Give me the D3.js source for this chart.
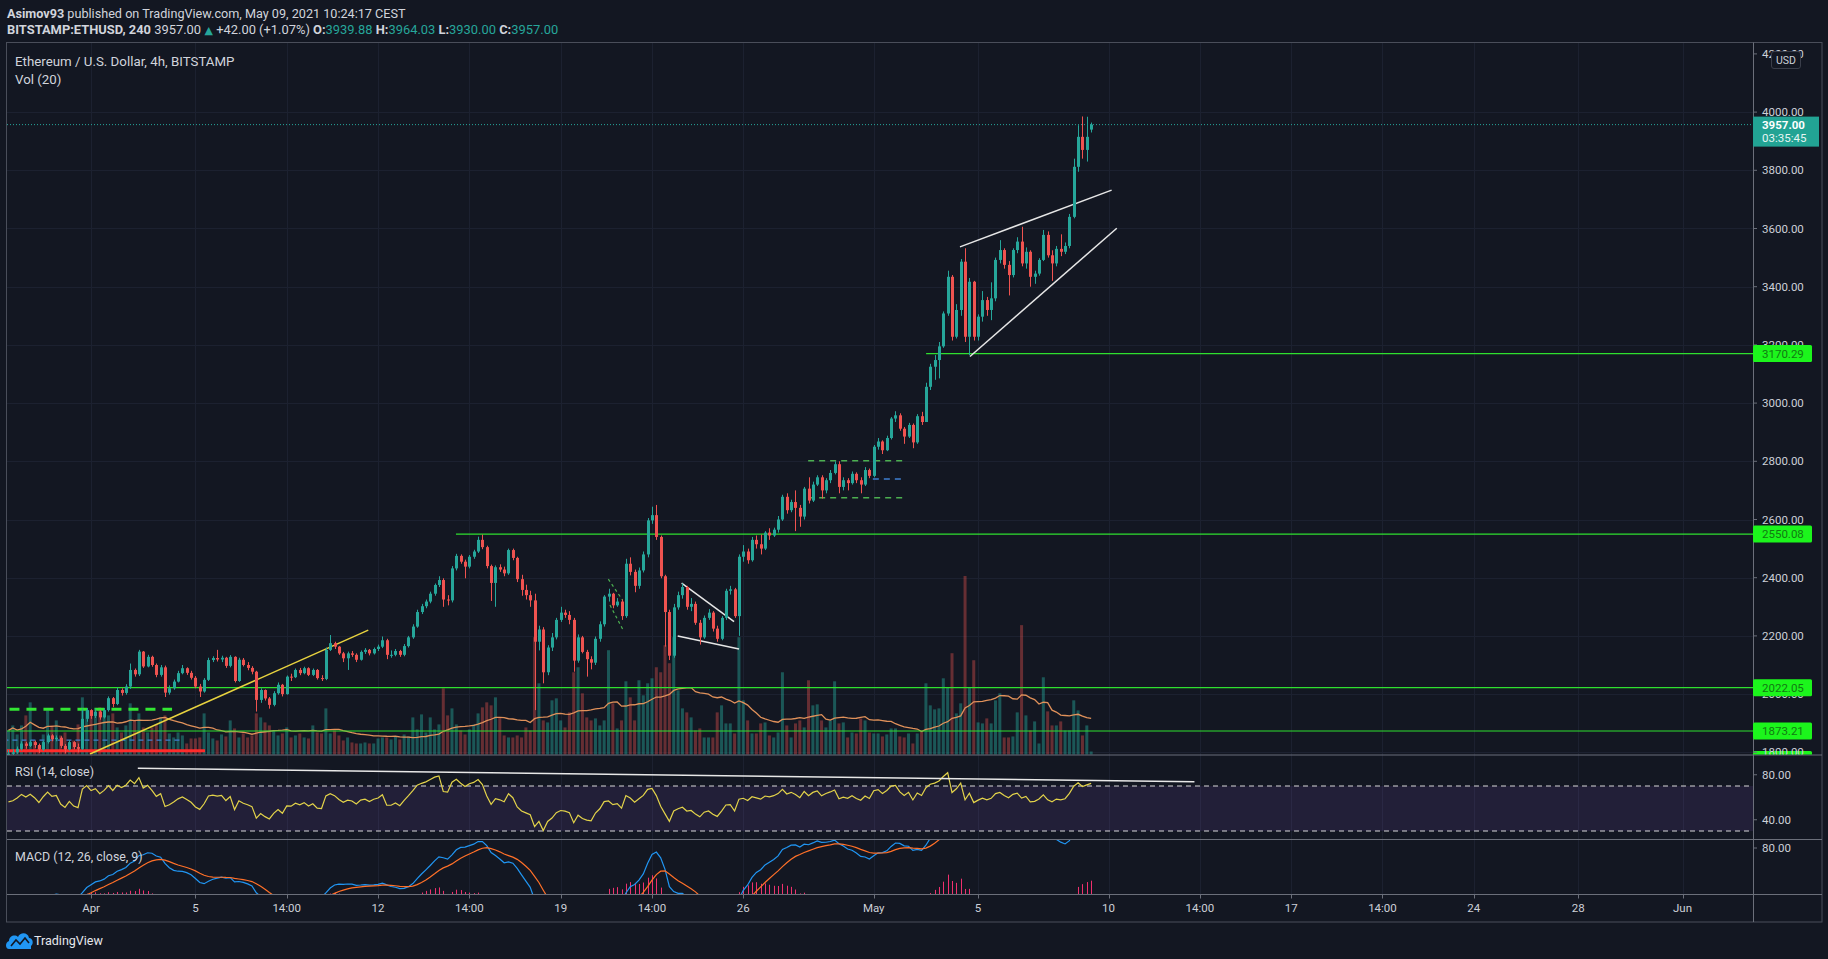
<!DOCTYPE html>
<html>
<head>
<meta charset="utf-8">
<title>ETHUSD 4h</title>
<style>
body { margin: 0; background: #131722; overflow: hidden; }
svg text { font-family: Roboto, "Noto Sans", sans-serif; }
</style>
</head>
<body>
<script src="https://cdn.jsdelivr.net/npm/d3@7/dist/d3.min.js"></script>
<script>

// 4h bars, wall-clock CEST times stored as UTC
function dt(mo, d, h, mi) { return new Date(Date.UTC(2021, mo - 1, d, h || 0, mi || 0)); }

var firstBar = dt(3, 28, 22);
var barMs = 4 * 3600 * 1000;
var firstOpen = 1780;
var lastBarOpen = 3939.88;

var closes = [
    1795,
    1800, 1812, 1830, 1822, 1835, 1825,   // Mar 29
    1810, 1835, 1858, 1845, 1850, 1822,   // Mar 30
    1810, 1835, 1818, 1812, 1915, 1945,   // Mar 31
    1925, 1940, 1920, 1945, 1986, 1966,   // Apr 1
    2014, 2004, 2026, 2083, 2068, 2146,
    2095, 2128, 2100, 2066, 2092, 2005,
    2020, 2043, 2072, 2089, 2073, 2056,
    2026, 2009, 2049, 2117, 2124, 2119,   // Apr 5
    2125, 2097, 2128, 2045, 2118, 2100,
    2090, 2077, 1980, 2014, 1985, 1963,
    2003, 2032, 2000, 2060, 2058, 2083,
    2072, 2089, 2066, 2083, 2055, 2052,
    2152, 2175, 2163, 2140, 2123, 2140,   // Apr 10
    2135, 2118, 2145, 2152, 2140, 2155,
    2163, 2185, 2135, 2135, 2148, 2135,
    2165, 2195, 2232, 2282, 2302, 2318,
    2345, 2375, 2392, 2325, 2322, 2432,
    2475, 2455, 2438, 2472, 2490, 2530,   // Apr 15
    2505, 2440, 2382, 2436, 2428, 2415,
    2495, 2468, 2395, 2358, 2340, 2322,
    2180, 2222, 2075, 2160, 2195, 2255,
    2280, 2272, 2255, 2115, 2195, 2145,
    2120, 2108, 2190, 2240, 2335, 2345,   // Apr 20
    2305, 2318, 2268, 2448, 2420, 2372,
    2425, 2480, 2597, 2615, 2540, 2405,
    2282, 2132, 2298, 2340, 2368, 2300,
    2310, 2245, 2195, 2262, 2280, 2225,
    2190, 2262, 2355, 2360, 2268, 2472,   // Apr 25
    2490, 2460, 2530, 2515, 2500, 2555,
    2545, 2565, 2600, 2678, 2632, 2660,
    2640, 2610, 2706, 2665, 2720, 2745,
    2700, 2735, 2760, 2790, 2712, 2735,
    2725, 2757, 2735, 2720, 2770, 2750,   // Apr 30
    2850, 2868, 2838, 2880, 2947, 2958,
    2912, 2885, 2925, 2865, 2955, 2935,
    3056, 3125, 3148, 3195, 3308, 3434,
    3228, 3320, 3486, 3228, 3417, 3228,
    3297, 3354, 3320, 3360, 3492, 3526,   // May 5
    3475, 3440, 3526, 3555, 3480, 3520,
    3434, 3445, 3492, 3578, 3508, 3480,
    3530, 3520, 3540, 3640, 3812, 3915,
    3870, 3915, 3957
];

var highs = [
    1808,
    1810, 1820, 1838, 1836, 1842, 1840,
    1830, 1840, 1864, 1862, 1858, 1855,
    1828, 1842, 1838, 1830, 1950, 1952,
    1948, 1950, 1945, 1952, 1992, 1990,
    2022, 2020, 2034, 2105, 2088, 2152,
    2148, 2135, 2132, 2105, 2100, 2098,
    2030, 2050, 2080, 2100, 2092, 2080,
    2062, 2035, 2055, 2125, 2130, 2152,
    2132, 2128, 2134, 2130, 2125, 2124,
    2110, 2096, 2080, 2020, 2016, 1990,
    2010, 2040, 2035, 2064, 2070, 2088,
    2090, 2094, 2092, 2088, 2086, 2065,
    2160, 2203, 2180, 2165, 2145, 2146,
    2148, 2140, 2150, 2158, 2155, 2160,
    2170, 2198, 2190, 2150, 2155, 2152,
    2172, 2200, 2240, 2290, 2310, 2325,
    2352, 2380, 2405, 2398, 2340, 2440,
    2482, 2480, 2462, 2478, 2496, 2541,
    2548, 2510, 2445, 2442, 2446, 2438,
    2500, 2500, 2472, 2410, 2376, 2355,
    2345, 2235, 2230, 2168, 2210, 2262,
    2300, 2290, 2285, 2262, 2205, 2200,
    2152, 2130, 2198, 2250, 2340, 2362,
    2348, 2330, 2325, 2465, 2470, 2428,
    2435, 2490, 2605, 2644, 2650, 2545,
    2410, 2290, 2310, 2352, 2380, 2372,
    2330, 2318, 2255, 2270, 2292, 2285,
    2235, 2268, 2362, 2372, 2365, 2480,
    2512, 2500, 2540, 2545, 2548, 2560,
    2570, 2572, 2612, 2685, 2690, 2668,
    2700, 2650, 2712, 2745, 2730, 2752,
    2752, 2742, 2770, 2800, 2800, 2745,
    2742, 2765, 2762, 2745, 2780, 2775,
    2856, 2880, 2872, 2888, 2952, 2972,
    2965, 2918, 2932, 2930, 2962, 2970,
    3070, 3135, 3165, 3210, 3315, 3455,
    3440, 3340, 3495, 3532, 3430, 3420,
    3305, 3385, 3365, 3415, 3500, 3560,
    3532, 3488, 3532, 3570, 3606, 3535,
    3525, 3455, 3498, 3595, 3590, 3525,
    3540, 3580, 3552, 3650, 3840, 3955,
    3985, 3984, 3964.03
];

var lows = [
    1772,
    1785, 1795, 1806, 1812, 1818, 1815,
    1798, 1805, 1830, 1838, 1838, 1815,
    1796, 1806, 1810, 1800, 1808, 1905,
    1915, 1918, 1912, 1916, 1940, 1955,
    1962, 1995, 1998, 2018, 2060, 2062,
    2090, 2092, 2094, 2058, 2060, 1990,
    1998, 2015, 2040, 2068, 2066, 2050,
    2020, 1990, 2005, 2045, 2110, 2112,
    2110, 2090, 2092, 2040, 2042, 2095,
    2082, 2068, 1940, 1970, 1978, 1950,
    1958, 1998, 1992, 1998, 2045, 2055,
    2065, 2068, 2062, 2062, 2050, 2045,
    2048, 2148, 2155, 2135, 2110, 2083,
    2128, 2110, 2115, 2138, 2133, 2136,
    2148, 2158, 2120, 2125, 2130, 2128,
    2130, 2160, 2190, 2228, 2275, 2295,
    2312, 2338, 2368, 2300, 2305, 2315,
    2425, 2448, 2398, 2432, 2465, 2485,
    2498, 2432, 2320, 2300, 2420, 2405,
    2410, 2460, 2385, 2338, 2325, 2300,
    1945, 2150, 2037, 2065, 2148, 2188,
    2248, 2262, 2240, 2077, 2108, 2140,
    2060, 2085, 2100, 2180, 2232, 2318,
    2295, 2300, 2255, 2262, 2408, 2350,
    2362, 2418, 2470, 2585, 2530, 2398,
    2163, 2117, 2125, 2290, 2328, 2290,
    2285, 2238, 2170, 2190, 2255, 2215,
    2180, 2185, 2255, 2342, 2262, 2200,
    2455, 2448, 2455, 2500, 2480, 2495,
    2530, 2540, 2555, 2595, 2620, 2625,
    2560, 2575, 2600, 2655, 2660, 2715,
    2672, 2690, 2725, 2755, 2690, 2700,
    2700, 2720, 2725, 2690, 2715, 2742,
    2745, 2840, 2825, 2835, 2875, 2935,
    2905, 2860, 2880, 2845, 2860, 2925,
    2935, 3045, 3080, 3085, 3190, 3300,
    3215, 3222, 3300, 3210, 3165, 3215,
    3215, 3280, 3300, 3285, 3350, 3480,
    3462, 3370, 3432, 3515, 3470, 3462,
    3400, 3410, 3438, 3488, 3500, 3420,
    3470, 3505, 3512, 3532, 3635, 3795,
    3840, 3830, 3930
];

var volumes = [
    2400,
    2900, 2000, 2900, 3900, 5200, 1400,
    900, 2000, 4400, 2900, 3400, 1900,
    2200, 1100, 1400, 3000, 5700, 4400,
    4400, 4100, 4700, 3900, 3900, 4100,
    2700, 2200, 2900, 5100, 3400, 4100,
    2700, 2200, 2700, 3000, 3700, 3900,
    2100, 1700, 2200, 1900, 1100, 1600,
    1600, 1700, 4100, 2200, 1600, 1400,
    2000, 1800, 3400, 2600, 1700, 2100,
    1700, 1900, 4100, 3700, 3200, 2900,
    2400, 1900, 2100, 2700, 1700, 1900,
    2100, 1700, 1600, 2900, 2200, 2100,
    4600, 2100, 2400, 1900, 1400, 1700,
    1200, 1100, 1100, 1200, 1100, 1100,
    1600, 1700, 1700, 1500, 1800, 1500,
    2000, 1800, 3700, 2500, 4000, 2200,
    3700, 2500, 3000, 6600, 3900, 4600,
    3000, 2400, 2000, 2500, 3000, 4100,
    4700, 5200, 4900, 5700, 3700, 1900,
    1700, 1700, 1900, 1700, 2700, 2400,
    11700, 7100, 3400, 3200, 5400, 5600,
    3400, 2700, 4200, 8200, 8700, 6100,
    3700, 3400, 3600, 2900, 3400, 10400,
    5100, 2600, 3400, 7300, 5700, 3400,
    7400, 5900, 7100, 7600, 8700, 8200,
    10900, 9100, 11700, 6400, 4600, 4200,
    3700, 2400, 2600, 1700, 1700, 1700,
    4200, 4900, 3100, 3100, 2100, 11700,
    5400, 3400, 2100, 2100, 3100, 3200,
    1900, 1700, 2200, 8200, 2900, 1700,
    3100, 3400, 2700, 7400, 4900, 5000,
    3400, 2700, 3400, 7300, 3100, 3200,
    1700, 2200, 2100, 3600, 3400, 2200,
    2100, 2100, 1800, 2000, 2600, 2600,
    1800, 1700, 2100, 1100, 2100, 2400,
    7100, 4900, 4500, 4600, 7600, 6700,
    10100, 4100, 5100, 17800, 6700, 9400,
    3200, 3100, 3600, 3100, 5400, 6100,
    1700, 1700, 1800, 4200, 12900, 3900,
    2400, 3300, 1100, 7700, 4300, 2900,
    2900, 3300, 2400, 2400, 5400, 4400,
    1900, 2900, 300
];

// axis ticks
var priceTicks = [1800, 2000, 2200, 2400, 2600, 2800, 3000, 3200, 3400, 3600, 3800, 4000, 4200];
var timeTicks = [dt(4,1,2), dt(4,5,2), dt(4,8,14), dt(4,12,2), dt(4,15,14), dt(4,19,2), dt(4,22,14), dt(4,26,2),
                 dt(5,1,2), dt(5,5,2), dt(5,10,2), dt(5,13,14), dt(5,17,2), dt(5,20,14), dt(5,24,2), dt(5,28,2), dt(6,1,2)];
var timeLabels = ["Apr", "5", "14:00", "12", "14:00", "19", "14:00", "26", "May", "5", "10", "14:00", "17", "14:00", "24", "28", "Jun"];

// horizontal levels drawn on the chart
var levelPrices = [3170.29, 2550.08, 2022.05, 1873.21];
var levelStarts = [dt(5,3,2,10), dt(4,15,1,40), dt(3,27,0), dt(3,27,0)];
var lowLevel = 1775;   // level just under the pane, only its label edge shows

// drawings
var yellowTrend = [[dt(4,1,1), 1794], [dt(4,11,17), 2220]];
var redLine = [[dt(3,27,0), 1805], [dt(4,5,10,50), 1805]];
var greenDash = [[dt(3,27,0), 1948], [dt(4,4,4,30), 1948]];
var blueDash = [[dt(3,27,0), 1842], [dt(4,4,11,50), 1842]];
var flagLines = [
    [[dt(4,20,21,50), 2395], [dt(4,21,11,0), 2323]],
    [[dt(4,20,23,20), 2306], [dt(4,21,11,30), 2220]]
];
var wedgeDown = [
    [[dt(4,23,17,15), 2381], [dt(4,25,17,30), 2249]],
    [[dt(4,23,13,40), 2200], [dt(4,25,22,5), 2155]]
];
var boxLines = [
    [[dt(4,28,13,40), 2802], [dt(5,2,5,15), 2802]],
    [[dt(4,28,13,40), 2675], [dt(5,2,5,15), 2675]]
];
var boxMid = [[dt(5,1,1,10), 2739], [dt(5,2,5,15), 2739]];
var wedgeUp = [
    [[dt(5,4,9,20), 3537], [dt(5,10,4,50), 3732]],
    [[dt(5,4,18,30), 3160], [dt(5,10,9,35), 3601]]
];
var rsiTrend = [[dt(4,2,21), 85.7], [dt(5,13,9), 73.8]];

// ---------- layout ----------
var W = 1828, H = 959;
var L = 7, R = 1753, outerR = 1822;
var paneTop = 42.5, priceBottom = 755, rsiBottom = 839.5, macdBottom = 894.5, axisBottom = 922;

var bars = closes.map(function(c, i) {
    var o = i === 0 ? firstOpen : closes[i - 1];
    if (i === closes.length - 1) o = lastBarOpen;
    return { t: new Date(firstBar.getTime() + i * barMs), o: o, h: highs[i], l: lows[i], c: c, v: volumes[i] };
});

// indicators
var rsiVals = [];
var avgGain = 9, avgLoss = 8;
bars.forEach(function(b, i) {
    var prev = i === 0 ? firstOpen : closes[i - 1];
    var ch = b.c - prev;
    avgGain = (avgGain * 13 + Math.max(ch, 0)) / 14;
    avgLoss = (avgLoss * 13 + Math.max(-ch, 0)) / 14;
    rsiVals.push(100 - 100 / (1 + avgGain / avgLoss));
});

var macdVals = [], sigVals = [], histVals = [];
var eFast = 1760, eSlow = 1790, eSig = -20;
closes.forEach(function(c) {
    eFast = eFast + (c - eFast) * 2 / 13;
    eSlow = eSlow + (c - eSlow) * 2 / 27;
    var m = eFast - eSlow;
    eSig = eSig + (m - eSig) * 2 / 10;
    macdVals.push(m); sigVals.push(eSig); histVals.push(m - eSig);
});

var volMA = volumes.map(function(v, i) {
    return d3.mean(volumes.slice(Math.max(0, i - 19), i + 1));
});

// scales
var x = d3.scaleTime().domain([dt(4,1,2), dt(5,5,2)]).range([91.07, 978.1]);
var y = d3.scaleLinear().domain([1800, 4000]).range([752.3, 112.1]);
var yVol = d3.scaleLinear().domain([0, d3.max(volumes)]).range([754.5, 576]);
var yRsi = d3.scaleLinear().domain([30, 70]).range([831, 786]);
var yMacd = d3.scaleLinear().domain([0, 80]).range([901, 848]);

var svg = d3.select("body").append("svg").attr("width", W).attr("height", H);
svg.append("rect").attr("width", W).attr("height", H).attr("fill", "#131722");

var defs = svg.append("defs");
defs.append("clipPath").attr("id", "cPrice").append("rect").attr("x", L).attr("y", paneTop).attr("width", R - L).attr("height", priceBottom - paneTop);
defs.append("clipPath").attr("id", "cRsi").append("rect").attr("x", L).attr("y", priceBottom + 0.5).attr("width", R - L).attr("height", rsiBottom - priceBottom - 1);
defs.append("clipPath").attr("id", "cMacd").append("rect").attr("x", L).attr("y", rsiBottom + 0.5).attr("width", R - L).attr("height", macdBottom - rsiBottom - 1);
defs.append("clipPath").attr("id", "cAxis").append("rect").attr("x", R).attr("y", paneTop).attr("width", outerR - R).attr("height", priceBottom - paneTop - 0.5);

// grid
var grid = svg.append("g").attr("stroke", "#1c2130").attr("stroke-width", 1);
grid.selectAll("line.v").data(timeTicks).enter().append("line")
    .attr("x1", function(d) { return Math.round(x(d)) + 0.5; }).attr("x2", function(d) { return Math.round(x(d)) + 0.5; })
    .attr("y1", paneTop).attr("y2", macdBottom);
grid.selectAll("line.h").data(priceTicks.filter(function(p) { return p <= 4000; })).enter().append("line")
    .attr("x1", L).attr("x2", R)
    .attr("y1", function(d) { return Math.round(y(d)) + 0.5; }).attr("y2", function(d) { return Math.round(y(d)) + 0.5; });

// ---------- price pane ----------
var pricePane = svg.append("g").attr("clip-path", "url(#cPrice)");
var upCol = "#26a69a", downCol = "#ef5350";

pricePane.selectAll("rect.vol").data(bars).enter().append("rect")
    .attr("x", function(d) { return x(d.t) - 1.5; })
    .attr("y", function(d) { return yVol(d.v); })
    .attr("width", 3)
    .attr("height", function(d) { return yVol(0) - yVol(d.v); })
    .attr("fill", function(d) { return d.c >= d.o ? "rgba(38,166,154,0.45)" : "rgba(239,83,80,0.38)"; });

pricePane.append("path").datum(volMA)
    .attr("fill", "none").attr("stroke", "#e0915a").attr("stroke-width", 1.3)
    .attr("d", d3.line().x(function(d, i) { return x(bars[i].t); }).y(function(d) { return yVol(d); }));

// level lines
pricePane.selectAll("line.lvl").data(levelPrices).enter().append("line")
    .attr("x1", function(d, i) { return Math.max(L, x(levelStarts[i])); }).attr("x2", R)
    .attr("y1", function(d) { return y(d); }).attr("y2", function(d) { return y(d); })
    .attr("stroke", "#2fe02f").attr("stroke-width", 1.2);

function seg(g, pts, color, width, dash) {
    return g.append("line")
        .attr("x1", x(pts[0][0])).attr("y1", y(pts[0][1]))
        .attr("x2", x(pts[1][0])).attr("y2", y(pts[1][1]))
        .attr("stroke", color).attr("stroke-width", width)
        .attr("stroke-dasharray", dash || null);
}

seg(pricePane, redLine, "#ff2b2b", 3);
seg(pricePane, blueDash, "#3f7fd0", 1.2, "5,4");
seg(pricePane, greenDash, "#33e633", 3, "10,7");
seg(pricePane, yellowTrend, "#e8d33f", 1.5);
flagLines.forEach(function(s) { seg(pricePane, s, "#4caf50", 1.2, "3,3"); });
wedgeDown.forEach(function(s) { seg(pricePane, s, "#e6e6e6", 1.5); });
boxLines.forEach(function(s) { seg(pricePane, s, "#4caf50", 1.5, "6,5"); });
seg(pricePane, boxMid, "#3f7fd0", 1.5, "6,5");
wedgeUp.forEach(function(s) { seg(pricePane, s, "#e6e6e6", 1.5); });

// last price dotted line
var lastClose = closes[closes.length - 1];
pricePane.append("line").attr("x1", L).attr("x2", R)
    .attr("y1", y(lastClose)).attr("y2", y(lastClose))
    .attr("stroke", "#26a69a").attr("stroke-width", 1).attr("stroke-dasharray", "1,2");

// candles
pricePane.selectAll("line.wick").data(bars).enter().append("line")
    .attr("x1", function(d) { return Math.round(x(d.t)) + 0.5; }).attr("x2", function(d) { return Math.round(x(d.t)) + 0.5; })
    .attr("y1", function(d) { return y(d.h); }).attr("y2", function(d) { return y(d.l); })
    .attr("stroke", function(d) { return d.c >= d.o ? upCol : downCol; }).attr("stroke-width", 1);
pricePane.selectAll("rect.body").data(bars).enter().append("rect")
    .attr("x", function(d) { return Math.round(x(d.t)) - 1; })
    .attr("y", function(d) { return y(Math.max(d.o, d.c)); })
    .attr("width", 3)
    .attr("height", function(d) { return Math.max(1, Math.abs(y(d.o) - y(d.c))); })
    .attr("fill", function(d) { return d.c >= d.o ? upCol : downCol; });

// ---------- RSI pane ----------
var rsiPane = svg.append("g").attr("clip-path", "url(#cRsi)");
rsiPane.append("rect").attr("x", L).attr("width", R - L)
    .attr("y", yRsi(70)).attr("height", yRsi(30) - yRsi(70))
    .attr("fill", "rgba(126,87,194,0.14)");
[70, 30].forEach(function(v) {
    rsiPane.append("line").attr("x1", L).attr("x2", R).attr("y1", yRsi(v)).attr("y2", yRsi(v))
        .attr("stroke", "#d8d8d8").attr("stroke-width", 1).attr("stroke-dasharray", "5,4");
});
rsiPane.append("path").datum(rsiVals)
    .attr("fill", "none").attr("stroke", "#e3d34a").attr("stroke-width", 1.2)
    .attr("d", d3.line().x(function(d, i) { return x(bars[i].t); }).y(function(d) { return yRsi(d); }));
rsiPane.append("line")
    .attr("x1", x(rsiTrend[0][0])).attr("y1", yRsi(rsiTrend[0][1]))
    .attr("x2", x(rsiTrend[1][0])).attr("y2", yRsi(rsiTrend[1][1]))
    .attr("stroke", "#e8e8e8").attr("stroke-width", 1.5);

// ---------- MACD pane ----------
var macdPane = svg.append("g").attr("clip-path", "url(#cMacd)");
macdPane.selectAll("rect.hist").data(histVals).enter().append("rect")
    .attr("x", function(d, i) { return Math.round(x(bars[i].t)); })
    .attr("y", function(d) { return d > 0 ? yMacd(d) : yMacd(0); })
    .attr("width", 1)
    .attr("height", function(d) { return Math.abs(yMacd(0) - yMacd(d)); })
    .attr("fill", "#f0306e");
var macdLine = d3.line().x(function(d, i) { return x(bars[i].t); }).y(function(d) { return yMacd(d); });
macdPane.append("path").datum(macdVals).attr("fill", "none").attr("stroke", "#2196f3").attr("stroke-width", 1.2).attr("d", macdLine);
macdPane.append("path").datum(sigVals).attr("fill", "none").attr("stroke", "#ff7028").attr("stroke-width", 1.2).attr("d", macdLine);

// ---------- frame and separators ----------
var frame = svg.append("g").attr("fill", "none");
frame.append("rect").attr("x", L - 0.5).attr("y", paneTop).attr("width", outerR - L + 0.5).attr("height", axisBottom - paneTop)
    .attr("stroke", "#4a4e5a").attr("stroke-width", 1);
[priceBottom, rsiBottom, macdBottom].forEach(function(v) {
    frame.append("line").attr("x1", L).attr("x2", outerR).attr("y1", v).attr("y2", v).attr("stroke", "#6b6f7a");
});
frame.append("line").attr("x1", R + 0.5).attr("x2", R + 0.5).attr("y1", paneTop).attr("y2", axisBottom).attr("stroke", "#6b6f7a");

// ---------- price axis ----------
var axisTxt = "#cdd0d8";
var pAxis = svg.append("g").attr("clip-path", "url(#cAxis)");

function levelLabel(g, p) {
    var lab = g.append("g").attr("transform", "translate(" + R + "," + y(p) + ")");
    lab.append("rect").attr("x", 0).attr("y", -8.5).attr("width", 59).attr("height", 17).attr("rx", 1.5).attr("fill", "#1cf51c");
    lab.append("text").attr("x", 9).attr("y", 4).attr("fill", "#127a12").attr("font-size", 11.5).text(p.toFixed(2));
}
levelLabel(pAxis, lowLevel);

pAxis.selectAll("line.tk").data(priceTicks).enter().append("line")
    .attr("x1", R).attr("x2", R + 4)
    .attr("y1", function(d) { return y(d); }).attr("y2", function(d) { return y(d); })
    .attr("stroke", "#6b6f7a");
pAxis.selectAll("text.tk").data(priceTicks).enter().append("text")
    .attr("x", R + 9).attr("y", function(d) { return y(d) + 4; })
    .attr("fill", axisTxt).attr("font-size", 11.5)
    .text(function(d) { return d.toFixed(2); });

levelPrices.forEach(function(p) { levelLabel(pAxis, p); });

// last price label
var lp = svg.append("g").attr("transform", "translate(" + R + "," + y(lastClose) + ")");
lp.append("rect").attr("x", 0).attr("y", -8).attr("width", 66).attr("height", 30).attr("fill", "#22a394");
lp.append("text").attr("x", 9).attr("y", 4).attr("fill", "#ffffff").attr("font-size", 11.5).attr("font-weight", "bold").text(lastClose.toFixed(2));
lp.append("text").attr("x", 9).attr("y", 17).attr("fill", "#e6f5f3").attr("font-size", 11.5).text("03:35:45");

// USD badge
svg.append("rect").attr("x", 1771.5).attr("y", 51.5).attr("width", 29).attr("height", 17).attr("rx", 2.5)
    .attr("fill", "#131722").attr("stroke", "#3a3e4a");
svg.append("text").attr("x", 1786).attr("y", 64).attr("text-anchor", "middle").attr("fill", axisTxt).attr("font-size", 10.5).text("USD");

// RSI / MACD axis
[80, 40].forEach(function(v) {
    svg.append("line").attr("x1", R).attr("x2", R + 4).attr("y1", yRsi(v)).attr("y2", yRsi(v)).attr("stroke", "#6b6f7a");
    svg.append("text").attr("x", R + 9).attr("y", yRsi(v) + 4).attr("fill", axisTxt).attr("font-size", 11.5).text(v.toFixed(2));
});
svg.append("line").attr("x1", R).attr("x2", R + 4).attr("y1", yMacd(80)).attr("y2", yMacd(80)).attr("stroke", "#6b6f7a");
svg.append("text").attr("x", R + 9).attr("y", yMacd(80) + 4).attr("fill", axisTxt).attr("font-size", 11.5).text("80.00");

// ---------- time axis ----------
var tAxis = svg.append("g");
tAxis.selectAll("line").data(timeTicks).enter().append("line")
    .attr("x1", function(d) { return Math.round(x(d)) + 0.5; }).attr("x2", function(d) { return Math.round(x(d)) + 0.5; })
    .attr("y1", macdBottom).attr("y2", macdBottom + 4).attr("stroke", "#6b6f7a");
tAxis.selectAll("text").data(timeTicks).enter().append("text")
    .attr("x", function(d) { return x(d); }).attr("y", 912)
    .attr("text-anchor", "middle").attr("fill", axisTxt).attr("font-size", 11.5)
    .text(function(d, i) { return timeLabels[i]; });

// ---------- texts ----------
var txt = "#d1d4dc", teal = "#26a69a";
var h1 = svg.append("text").attr("x", 7).attr("y", 17.5).attr("font-size", 12.65).attr("fill", txt);
h1.append("tspan").attr("font-weight", "bold").text("Asimov93");
h1.append("tspan").text(" published on TradingView.com, May 09, 2021 10:24:17 CEST");

var h2 = svg.append("text").attr("x", 7).attr("y", 33.5).attr("font-size", 12.9).attr("fill", txt);
h2.append("tspan").attr("font-weight", "bold").text("BITSTAMP:ETHUSD, 240");
h2.append("tspan").text(" 3957.00");
h2.append("tspan").attr("fill", teal).attr("font-family", "DejaVu Sans").attr("font-size", 11).text(" \u25B2");
h2.append("tspan").text(" +42.00 (+1.07%) ");
[["O:", "3939.88"], ["H:", "3964.03"], ["L:", "3930.00"], ["C:", "3957.00"]].forEach(function(p, i) {
    h2.append("tspan").attr("font-weight", "bold").text((i ? " " : "") + p[0]);
    h2.append("tspan").attr("fill", teal).text(p[1]);
});

svg.append("text").attr("x", 15).attr("y", 65.5).attr("font-size", 13.3).attr("fill", txt).text("Ethereum / U.S. Dollar, 4h, BITSTAMP");
svg.append("text").attr("x", 15).attr("y", 84).attr("font-size", 13.3).attr("fill", txt).text("Vol (20)");
svg.append("text").attr("x", 15).attr("y", 776).attr("font-size", 12.4).attr("fill", txt).text("RSI (14, close)");
svg.append("text").attr("x", 15).attr("y", 861).attr("font-size", 12.4).attr("fill", txt).text("MACD (12, 26, close, 9)");

// logo
var logo = svg.append("g").attr("transform", "translate(6,931)");
logo.append("path").attr("d", "M3,18 C-1,18 -1,11 3,10 C3,5 9,3 12,6 C14,1 22,1 23,7 C27,7 28,13 25,15 L25,18 Z").attr("fill", "#2196f3");
logo.append("path").attr("d", "M5,15 L10,9 L14,13 L19,7 L23,12").attr("fill", "none").attr("stroke", "#131722").attr("stroke-width", 1.6);
svg.append("text").attr("x", 34).attr("y", 945).attr("font-size", 12.5).attr("fill", "#e6e8ee").text("TradingView");

</script>
</body>
</html>
